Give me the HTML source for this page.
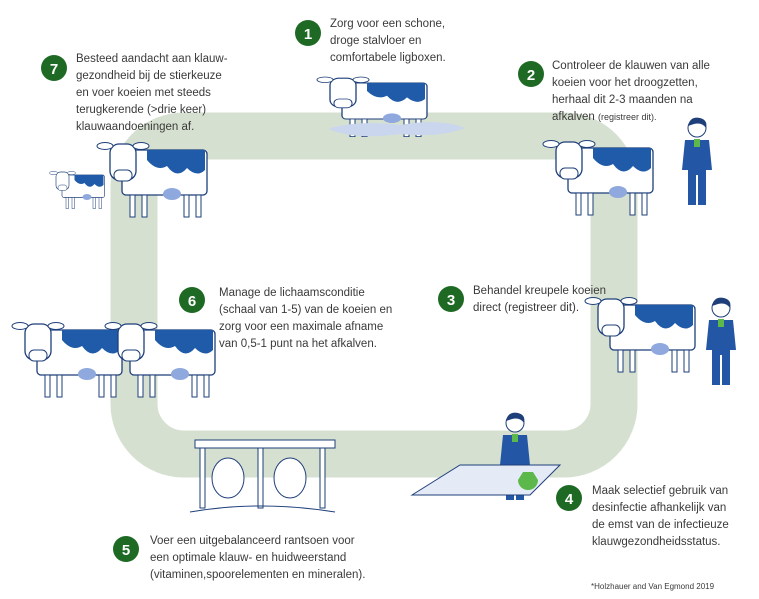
<!DOCTYPE html>
<html><head><meta charset="utf-8"><style>
body{margin:0;background:#fff;}
svg{display:block;}
text{font-family:"Liberation Sans",sans-serif;font-size:11.5px;fill:#3a3a3a;}
.n{font-size:15px;font-weight:bold;fill:#fff;text-anchor:middle;}
</style></head><body>
<svg width="759" height="599" viewBox="0 0 759 599" xmlns="http://www.w3.org/2000/svg">
<defs>
<g id="cow">
 <rect x="20" y="0" width="85" height="45" rx="4" fill="#fff" stroke="#1e3f7a" stroke-width="1.3"/>
 <path d="M45 0 H103 V20 Q95 28 85 18 Q75 30 65 16 Q55 22 45 10Z" fill="#1f5ba8"/>
 <rect x="28" y="45" width="5" height="22" fill="#fff" stroke="#1e3f7a"/>
 <rect x="40" y="45" width="5" height="22" fill="#fff" stroke="#1e3f7a"/>
 <rect x="82" y="45" width="5" height="22" fill="#fff" stroke="#1e3f7a"/>
 <rect x="94" y="45" width="5" height="22" fill="#fff" stroke="#1e3f7a"/>
 <ellipse cx="70" cy="44" rx="9" ry="6" fill="#8fa9de"/>
 <rect x="8" y="-6" width="26" height="36" rx="9" fill="#fff" stroke="#1e3f7a" stroke-width="1.3"/>
 <ellipse cx="3" cy="-4" rx="8" ry="3.5" fill="#fff" stroke="#1e3f7a"/>
 <ellipse cx="39" cy="-4" rx="8" ry="3.5" fill="#fff" stroke="#1e3f7a"/>
 <rect x="12" y="20" width="18" height="11" rx="5" fill="#fff" stroke="#1e3f7a"/>
</g>
<g id="man">
 <circle cx="15" cy="8" r="9" fill="#fff" stroke="#1e3f7a"/>
 <path d="M6 6 Q8 -4 18 -2 Q26 0 24 8 Q20 2 12 4Z" fill="#1e3f7a"/>
 <path d="M3 20 H27 L30 50 H24 V85 H16 V55 H14 V85 H6 V50 H0Z" fill="#2456a6"/>
 <rect x="12" y="19" width="6" height="8" fill="#5cb84a"/>
</g>
</defs>
<rect x="134" y="136" width="480" height="318" rx="50" fill="none" stroke="#d6e0d0" stroke-width="47"/>

<!-- cows -->
<use href="#cow" transform="translate(322,83) scale(1.0,0.8)"/>
<path d="M330 128 Q360 120 400 125 Q440 118 465 128 Q440 138 400 134 Q360 140 330 130Z" fill="#c9d6ee"/>
<use href="#cow" transform="translate(102,150)"/>
<use href="#cow" transform="translate(52,175) scale(0.5)"/>
<use href="#cow" transform="translate(548,148)"/>
<use href="#man" transform="translate(682,120)"/>
<use href="#cow" transform="translate(590,305)"/>
<use href="#man" transform="translate(706,300)"/>
<use href="#cow" transform="translate(17,330)"/>
<use href="#cow" transform="translate(110,330)"/>
<use href="#man" transform="translate(500,415)"/>
<path d="M412 495 L460 465 H560 L530 495Z" fill="#e4ebf6" stroke="#1e3f7a"/>
<path d="M518 480 a10 10 0 1 0 20 0 l-5 -8 h-10z" fill="#5cb84a"/>
<!-- feed fence -->
<rect x="195" y="440" width="140" height="8" fill="#fff" stroke="#1e3f7a"/>
<rect x="200" y="448" width="5" height="60" fill="#fff" stroke="#1e3f7a"/>
<rect x="258" y="448" width="5" height="60" fill="#fff" stroke="#1e3f7a"/>
<rect x="320" y="448" width="5" height="60" fill="#fff" stroke="#1e3f7a"/>
<ellipse cx="228" cy="478" rx="16" ry="20" fill="#fff" stroke="#1e3f7a"/>
<ellipse cx="290" cy="478" rx="16" ry="20" fill="#fff" stroke="#1e3f7a"/>
<path d="M190 512 Q260 500 335 512" stroke="#1e3f7a" fill="none"/>

<!-- badges -->
<g fill="#1e6a24">
<circle cx="308" cy="33" r="13"/><circle cx="531" cy="74" r="13"/>
<circle cx="451" cy="299" r="13"/><circle cx="569" cy="498" r="13"/>
<circle cx="126" cy="549" r="13"/><circle cx="192" cy="300" r="13"/>
<circle cx="54" cy="68" r="13"/>
</g>
<text class="n" x="308" y="39">1</text><text class="n" x="531" y="80">2</text>
<text class="n" x="451" y="305">3</text><text class="n" x="569" y="504">4</text>
<text class="n" x="126" y="555">5</text><text class="n" x="192" y="306">6</text>
<text class="n" x="54" y="74">7</text>

<text x="330" y="27">Zorg voor een schone,</text>
<text x="330" y="44">droge stalvloer en</text>
<text x="330" y="61">comfortabele ligboxen.</text>

<text x="552" y="69">Controleer de klauwen van alle</text>
<text x="552" y="86">koeien voor het droogzetten,</text>
<text x="552" y="103">herhaal dit 2-3 maanden na</text>
<text x="552" y="120">afkalven <tspan style="font-size:9px">(registreer dit).</tspan></text>

<text x="473" y="294">Behandel kreupele koeien</text>
<text x="473" y="311">direct (registreer dit).</text>

<text x="592" y="494">Maak selectief gebruik van</text>
<text x="592" y="511">desinfectie afhankelijk van</text>
<text x="592" y="528">de emst van de infectieuze</text>
<text x="592" y="545">klauwgezondheidsstatus.</text>

<text x="150" y="544">Voer een uitgebalanceerd rantsoen voor</text>
<text x="150" y="561">een optimale klauw- en huidweerstand</text>
<text x="150" y="578">(vitaminen,spoorelementen en mineralen).</text>

<text x="219" y="296">Manage de lichaamsconditie</text>
<text x="219" y="313">(schaal van 1-5) van de koeien en</text>
<text x="219" y="330">zorg voor een maximale afname</text>
<text x="219" y="347">van 0,5-1 punt na het afkalven.</text>

<text x="76" y="62">Besteed aandacht aan klauw-</text>
<text x="76" y="79">gezondheid bij de stierkeuze</text>
<text x="76" y="96">en voer koeien met steeds</text>
<text x="76" y="113">terugkerende (&gt;drie keer)</text>
<text x="76" y="130">klauwaandoeningen af.</text>

<text x="591" y="589" style="font-size:8px">*Holzhauer and Van Egmond 2019</text>
</svg>
</body></html>
